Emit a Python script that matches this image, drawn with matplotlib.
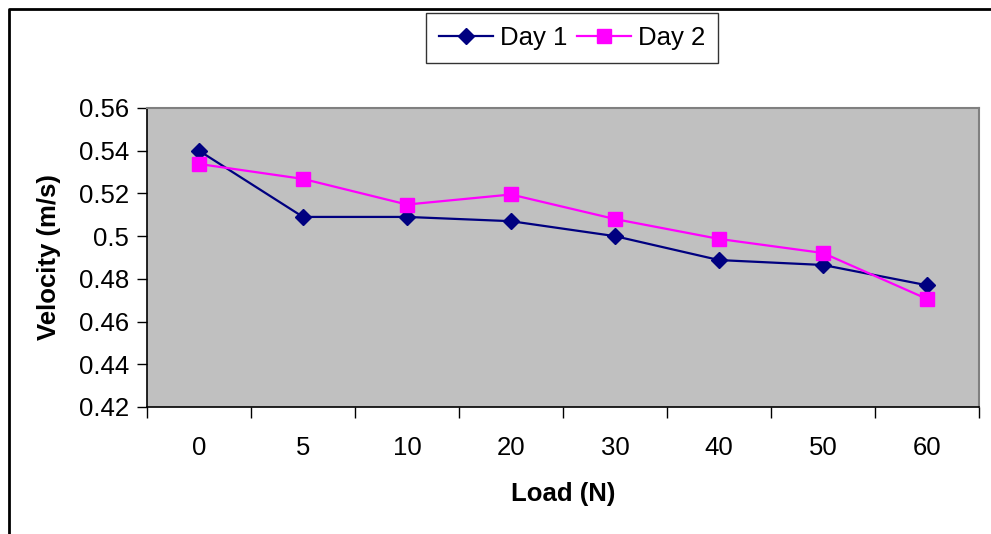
import matplotlib.pyplot as plt
from matplotlib.lines import Line2D

plt.rcParams['font.family'] = ['Liberation Sans', 'DejaVu Sans']

loads = ['0', '5', '10', '20', '30', '40', '50', '60']
day1 = [0.540, 0.509, 0.509, 0.507, 0.500, 0.4888, 0.4865, 0.477]
day2 = [0.5338, 0.5268, 0.5148, 0.5195, 0.508, 0.4987, 0.4921, 0.4706]

W, H = 991, 534
fs = 18.5
fig = plt.figure(figsize=(W / 100, H / 100), dpi=100)
ax = fig.add_axes([147 / W, 1 - 407 / H, (979 - 147) / W, (407 - 108) / H])
ax.set_facecolor('#C0C0C0')

x = list(range(len(loads)))
ax.plot(x, day1, color='#000080', marker='D', markersize=8.5, lw=1.6, label='Day 1')
ax.plot(x, day2, color='#FF00FF', marker='s', markersize=9.5, lw=1.6, label='Day 2')

ax.set_xlim(-0.5, len(loads) - 0.5)
ax.set_ylim(0.42, 0.56)
ax.set_yticks([0.42, 0.44, 0.46, 0.48, 0.5, 0.52, 0.54, 0.56])
ax.set_yticklabels(['0.42', '0.44', '0.46', '0.48', '0.5', '0.52', '0.54', '0.56'])
ax.set_xticks(x)
ax.set_xticklabels(loads)
ax.set_xticks([i - 0.5 for i in range(len(loads) + 1)], minor=True)
ax.tick_params(axis='x', which='major', length=0, pad=21, labelsize=fs)
ax.tick_params(axis='x', which='minor', length=8, width=1, direction='out')
ax.tick_params(axis='y', length=7, width=1, direction='out', pad=6, labelsize=fs)

for s in ['top', 'right']:
    ax.spines[s].set_color('#808080')
    ax.spines[s].set_linewidth(1.5)
for s in ['left', 'bottom']:
    ax.spines[s].set_color('black')
    ax.spines[s].set_linewidth(1.2)

ax.set_xlabel('Load (N)', fontsize=fs, fontweight='bold', labelpad=16)
ax.set_ylabel('Velocity (m/s)', fontsize=fs, fontweight='bold', labelpad=13)

leg = fig.legend(loc='center', bbox_to_anchor=(572 / W, 1 - 38 / H), ncol=2,
                 fontsize=fs, frameon=True, fancybox=False, edgecolor='black',
                 handlelength=2.1, columnspacing=0.4, handletextpad=0.25,
                 borderpad=0.5, borderaxespad=0)
leg.get_frame().set_linewidth(1.0)

fig.add_artist(Line2D([9 / W, 9 / W, 1], [0, 1 - 9 / H, 1 - 9 / H],
                      transform=fig.transFigure, color='black', lw=2))

fig.savefig('out.png', dpi=100)
